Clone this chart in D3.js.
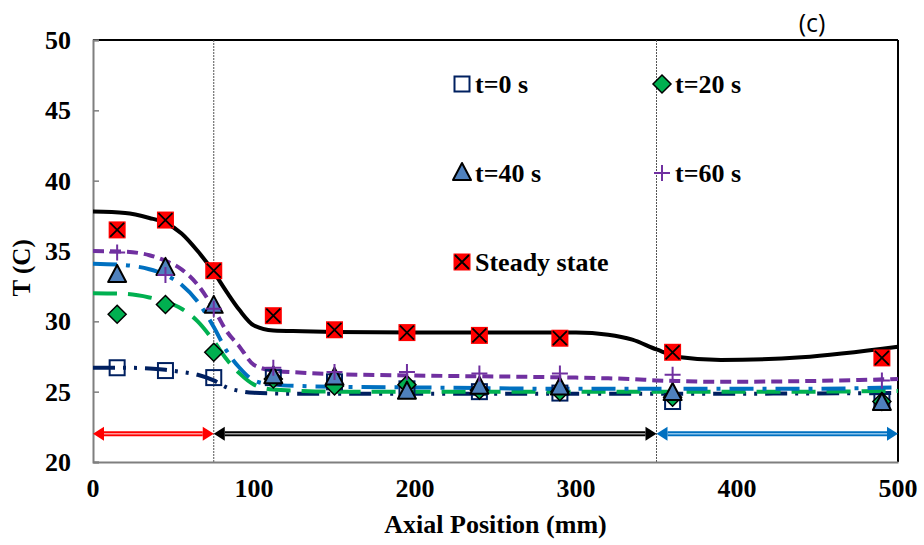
<!DOCTYPE html>
<html>
<head>
<meta charset="utf-8">
<script src="https://cdn.jsdelivr.net/npm/d3@7"></script>
<style>
  body { margin: 0; background: #fff; }
  text { font-family: "Liberation Serif", "Times New Roman", serif; font-weight: bold; }
</style>
</head>
<body>
<div class="chart"></div>
<script>
// measured points (axial position, mm)
const pointX = [15, 45, 75, 112, 150, 195, 240, 290, 360, 490];
const t0Pts = [26.7, 26.5, 26.0, 26.0, 25.7, 25.2, 25.0, 24.9, 24.3, 24.3];
const t20Pts = [30.5, 31.2, 27.8, 25.9, 25.4, 25.5, 25.1, 25.0, 24.6, 24.3];
const t40Pts = [33.3, 33.8, 31.1, 26.1, 26.0, 25.0, 25.35, 25.3, 24.9, 24.2];
const t60Pts = [34.9, 33.3, 30.9, 26.7, 26.4, 26.4, 26.3, 26.3, 26.2, 25.8];
const steadyPts = [36.5, 37.2, 33.6, 30.4, 29.4, 29.2, 29.0, 28.8, 27.8, 27.4];

// model curves on a shared x grid
const curveX = [0, 20, 35, 45, 55, 65, 75, 83, 91, 100, 112, 130, 150, 200, 300, 320, 335, 350, 365, 390, 440, 500];
const t0Curve = [26.7, 26.7, 26.65, 26.55, 26.4, 26.2, 25.8, 25.3, 25.05, 24.92, 24.87, 24.85, 24.85, 24.85, 24.85, 24.85, 24.85, 24.85, 24.85, 24.85, 24.87, 24.9];
const t20Curve = [32.0, 31.95, 31.7, 31.4, 30.9, 30.0, 28.6, 27.3, 26.3, 25.5, 25.15, 25.05, 25.0, 25.0, 25.0, 25.0, 25.0, 25.0, 25.0, 25.0, 25.0, 25.05];
const t40Curve = [34.1, 34.0, 33.7, 33.3, 32.6, 31.4, 29.6, 27.9, 26.7, 25.8, 25.5, 25.4, 25.35, 25.3, 25.2, 25.2, 25.2, 25.2, 25.2, 25.2, 25.2, 25.3];
const t60Curve = [35.0, 34.95, 34.7, 34.3, 33.7, 32.6, 30.9, 29.3, 28.2, 26.9, 26.5, 26.35, 26.25, 26.15, 26.0, 25.95, 25.9, 25.8, 25.75, 25.7, 25.75, 25.9];
const steadyCurve = [37.8, 37.7, 37.35, 37.0, 36.25, 35.0, 33.5, 32.1, 30.8, 29.7, 29.35, 29.3, 29.25, 29.2, 29.2, 29.05, 28.7, 28.0, 27.45, 27.25, 27.45, 28.2];

// axis ticks and zones
const xTicks = [0, 100, 200, 300, 400, 500];
const yTicks = [20, 25, 30, 35, 40, 45, 50];
const zoneBounds = [75, 350];
const zoneRanges = [[0, 75], [75, 350], [350, 500]];
const zoneLevel = 22;

const width = 924;
const height = 545;
const margin = { left: 93, right: 26, top: 40, bottom: 83 };
const plotW = width - margin.left - margin.right;
const plotH = height - margin.top - margin.bottom;

const svg = d3.select(".chart")
   .append("svg")
   .attr("width", width)
   .attr("height", height);

const x = d3.scaleLinear().domain([0, 500]).range([margin.left, margin.left + plotW]);
const y = d3.scaleLinear().domain([20, 50]).range([margin.top + plotH, margin.top]);

// frame
svg.append("line")
   .attr("x1", x(0)).attr("x2", x(500)).attr("y1", y(50)).attr("y2", y(50))
   .attr("stroke", "#000").attr("stroke-width", 2);
svg.append("line")
   .attr("x1", x(500)).attr("x2", x(500)).attr("y1", y(50)).attr("y2", y(20))
   .attr("stroke", "#000").attr("stroke-width", 2);

// zone dividers
svg.selectAll(".zone")
   .data(zoneBounds)
   .enter()
   .append("line")
   .attr("x1", (d) => x(d)).attr("x2", (d) => x(d))
   .attr("y1", y(50)).attr("y2", y(20))
   .attr("stroke", "#555")
   .attr("stroke-width", 1)
   .attr("stroke-dasharray", "2,1");

// y axis
const yAxis = d3.axisRight(y).tickValues(yTicks).tickSize(6).tickFormat("");
const yg = svg.append("g")
   .attr("transform", `translate(${margin.left}, 0)`)
   .call(yAxis);
yg.select(".domain").attr("stroke", "#7f7f7f").attr("stroke-width", 2);
yg.selectAll(".tick line").attr("stroke", "#7f7f7f").attr("stroke-width", 1.5);

svg.selectAll(".ylab")
   .data(yTicks)
   .enter()
   .append("text")
   .attr("x", 71)
   .attr("y", (d) => y(d) + 9)
   .attr("text-anchor", "end")
   .attr("font-size", 26)
   .text((d) => d);

// x axis
const xAxis = d3.axisBottom(x).tickValues(xTicks).tickSize(0).tickFormat("");
const xg = svg.append("g")
   .attr("transform", `translate(0, ${margin.top + plotH})`)
   .call(xAxis);
xg.select(".domain").attr("stroke", "#7f7f7f").attr("stroke-width", 2);

svg.selectAll(".xlab")
   .data(xTicks)
   .enter()
   .append("text")
   .attr("x", (d) => x(d))
   .attr("y", 497)
   .attr("text-anchor", "middle")
   .attr("font-size", 26)
   .text((d) => d);

svg.append("text")
   .attr("x", x(250))
   .attr("y", 533)
   .attr("text-anchor", "middle")
   .attr("font-size", 26)
   .text("Axial Position (mm)");

svg.append("text")
   .attr("transform", `translate(30, ${y(33.8)}) rotate(-90)`)
   .attr("text-anchor", "middle")
   .attr("font-size", 25)
   .text("T (C)");

svg.append("text")
   .attr("x", 812)
   .attr("y", 32)
   .attr("text-anchor", "middle")
   .attr("font-size", 25)
   .style("font-family", "'Open Sans', 'Noto Sans', sans-serif")
   .style("font-weight", "normal")
   .text("(c)");

// zone arrows
const zoneColors = ["#ff0000", "#000000", "#0070c0"];
const zoneInner = ["#ff9a9a", "#a0a0a0", "#8cc4ec"];
zoneRanges.forEach((r, i) => {
   const x1 = x(r[0]);
   const x2 = x(r[1]);
   const yy = y(zoneLevel);
   const head = 11;
   const g = svg.append("g");
   g.append("line")
      .attr("x1", x1 + head).attr("x2", x2 - head).attr("y1", yy).attr("y2", yy)
      .attr("stroke", zoneColors[i]).attr("stroke-width", 5);
   g.append("line")
      .attr("x1", x1 + head).attr("x2", x2 - head).attr("y1", yy).attr("y2", yy)
      .attr("stroke", zoneInner[i]).attr("stroke-width", 1.5);
   g.append("path")
      .attr("d", `M${x1},${yy} L${x1 + head},${yy - 7} L${x1 + head},${yy + 7} Z`)
      .attr("fill", zoneColors[i]);
   g.append("path")
      .attr("d", `M${x2},${yy} L${x2 - head},${yy - 7} L${x2 - head},${yy + 7} Z`)
      .attr("fill", zoneColors[i]);
});

// model curves
const series = [
   { curve: t0Curve, pts: t0Pts, color: "#002060", dash: "22,8,3,8,3,8", marker: "square" },
   { curve: t20Curve, pts: t20Pts, color: "#00b050", dash: "24,11", marker: "diamond" },
   { curve: t40Curve, pts: t40Pts, color: "#0070c0", dash: "24,9,4,9", marker: "triangle" },
   { curve: t60Curve, pts: t60Pts, color: "#7030a0", dash: "11,6", marker: "plus" },
   { curve: steadyCurve, pts: steadyPts, color: "#000000", dash: null, marker: "cross" }
];

const line = d3.line()
   .x((d) => x(d[0]))
   .y((d) => y(d[1]))
   .curve(d3.curveMonotoneX);

series.forEach((s) => {
   svg.append("path")
      .datum(curveX.map((cx, i) => [cx, s.curve[i]]))
      .attr("d", line)
      .attr("fill", "none")
      .attr("stroke", s.color)
      .attr("stroke-width", 4)
      .attr("stroke-dasharray", s.dash);
});

// markers
function drawMarker(g, type, cx, cy) {
   if (type === "square") {
      g.append("rect")
         .attr("x", cx - 7.5).attr("y", cy - 7.5).attr("width", 15).attr("height", 15)
         .attr("fill", "none").attr("stroke", "#002060").attr("stroke-width", 2);
   } else if (type === "diamond") {
      g.append("path")
         .attr("d", `M${cx},${cy - 9} L${cx + 9},${cy} L${cx},${cy + 9} L${cx - 9},${cy} Z`)
         .attr("fill", "#00b050").attr("stroke", "#000").attr("stroke-width", 1.5);
   } else if (type === "triangle") {
      g.append("path")
         .attr("d", `M${cx},${cy - 10} L${cx + 9},${cy + 7} L${cx - 9},${cy + 7} Z`)
         .attr("fill", "#4f81bd").attr("stroke", "#000").attr("stroke-width", 2)
         .attr("stroke-linejoin", "round");
   } else if (type === "plus") {
      g.append("path")
         .attr("d", `M${cx - 8},${cy} L${cx + 8},${cy} M${cx},${cy - 8} L${cx},${cy + 8}`)
         .attr("stroke", "#7030a0").attr("stroke-width", 2);
   } else {
      g.append("rect")
         .attr("x", cx - 8.5).attr("y", cy - 8.5).attr("width", 17).attr("height", 17)
         .attr("fill", "#ff0000");
      g.append("path")
         .attr("d", `M${cx - 7},${cy - 7} L${cx + 7},${cy + 7} M${cx + 7},${cy - 7} L${cx - 7},${cy + 7}`)
         .attr("stroke", "#000").attr("stroke-width", 1.8);
   }
}

series.forEach((s) => {
   const g = svg.append("g");
   pointX.forEach((px, i) => drawMarker(g, s.marker, x(px), y(s.pts[i])));
});

// legend
const legendNames = ["t=0 s", "t=20 s", "t=40 s", "t=60 s", "Steady state"];
const legendPos = [[462, 84], [662, 84], [462, 173], [662, 173], [462, 262]];
legendNames.forEach((name, i) => {
   const g = svg.append("g");
   const [lx, ly] = legendPos[i];
   drawMarker(g, series[i].marker, lx, ly);
   g.append("text")
      .attr("x", lx + 13)
      .attr("y", ly + 9)
      .attr("font-size", 26)
      .text(name);
});
</script>
</body>
</html>
